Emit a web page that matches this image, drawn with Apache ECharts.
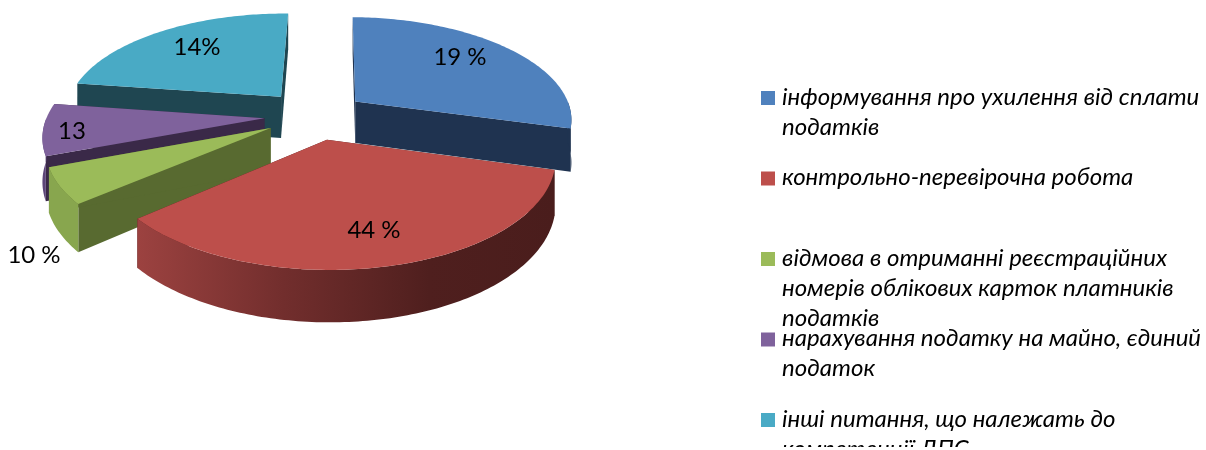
<!DOCTYPE html>
<html>
<head>
<meta charset="utf-8">
<style>
  html, body { margin: 0; padding: 0; background: #fff; }
  #chart { width: 1206px; height: 450px; }
</style>
<script src="https://cdn.jsdelivr.net/npm/echarts@6/dist/echarts.min.js"></script>
</head>
<body>
<div id="chart"></div>
<script>
const categories = [
  'інформування про ухилення від сплати\nподатків',
  'контрольно-перевірочна робота',
  'відмова в отриманні реєстраційних\nномерів облікових карток платників\nподатків',
  'нарахування податку на майно, єдиний\nподаток',
  'інші питання, що належать до\nкомпетенції ДПС'
];
// printed labels do not agree with the drawn slices in the source picture,
// so shares are read from the slice shapes and the labels are kept as printed
const sliceShares = [29, 34.5, 5.5, 8, 23];
const sliceLabels = ['19 %', '44 %', '10 %', '13', '14%'];

const topColors = ['#4f81bd', '#bd4f4b', '#9bbb59', '#7f629c', '#49aac5'];
const faceColors = ['#1f3350', '#4a1d1c', '#586a30', '#3a2948', '#1f4651'];
const rimColors = ['#1f3350', null, '#88a64e', '#5c4578', '#3f8ea6'];
const labelSpots = [[460, 57], [374, 230], [34, 255], [72, 131], [197, 47]];
const explodeBy = [0.235, 0.235, 0.235, 0.235, 0.25];
const drawOrder = [4, 0, 3, 2, 1];

const FONT = 'Lato, "Open Sans", sans-serif';
const START_ANGLE = 1;
const DEPTH = 41;

// perspective view of the tilted disc, angles run clockwise from the top
function project(X, Y, drop) {
  const s = 1 / (1 - 0.15 * Y);
  return [311 + 210 * X * s, 94 + 95 * Y * s + (drop || 0) * s];
}

function sliceAngles(index) {
  const total = sliceShares.reduce((a, b) => a + b, 0);
  let start = START_ANGLE;
  for (let i = 0; i < index; i++) {
    start += (sliceShares[i] / total) * 360;
  }
  return [start, start + (sliceShares[index] / total) * 360];
}

function renderSlice(params, api) {
  const index = api.value(0);
  const [start, end] = sliceAngles(index);
  const mid = ((start + end) / 2) * Math.PI / 180;
  const apexX = 0.02 + explodeBy[index] * Math.sin(mid);
  const apexY = 0.22 - explodeBy[index] * Math.cos(mid);

  const rimAt = (deg, drop) => {
    const a = deg * Math.PI / 180;
    return project(apexX + Math.sin(a), apexY - Math.cos(a), drop);
  };
  const arc = (from, to, drop) => {
    const pts = [];
    const steps = Math.max(1, Math.ceil(to - from));
    for (let k = 0; k <= steps; k++) {
      pts.push(rimAt(from + ((to - from) * k) / steps, drop));
    }
    return pts;
  };
  const apex = project(apexX, apexY);
  const apexLow = project(apexX, apexY, DEPTH);
  const poly = (points, fill, z2) => ({
    type: 'polygon',
    z2,
    shape: { points },
    style: { fill, stroke: null }
  });

  const rimFill = rimColors[index] || new echarts.graphic.LinearGradient(0, 0, 1, 0, [
    { offset: 0, color: '#9c4240' },
    { offset: 0.35, color: '#722e2d' },
    { offset: 0.7, color: '#4f1f1e' },
    { offset: 1, color: '#4a1d1c' }
  ]);

  const children = [
    poly([apex, rimAt(start), rimAt(start, DEPTH), apexLow], faceColors[index], 1),
    poly([apex, rimAt(end), rimAt(end, DEPTH), apexLow], faceColors[index], 1)
  ];
  // only the front half of the outer wall can be seen
  const wallFrom = Math.max(start, 90);
  const wallTo = Math.min(end, 270);
  if (wallTo > wallFrom) {
    children.push(poly(arc(wallFrom, wallTo, 0).concat(arc(wallFrom, wallTo, DEPTH).reverse()), rimFill, 2));
  }
  children.push(poly([apex].concat(arc(start, end, 0)), topColors[index], 3));
  children.push({
    type: 'text',
    z2: 4,
    x: labelSpots[index][0],
    y: labelSpots[index][1],
    style: {
      text: sliceLabels[index],
      font: '24px ' + FONT,
      fill: '#000',
      align: 'center',
      verticalAlign: 'middle'
    }
  });
  return { type: 'group', children };
}

const legendElements = [];
categories.forEach((name, i) => {
  const top = 91 + 80.5 * i;
  legendElements.push({
    type: 'rect',
    shape: { x: 761, y: top, width: 14, height: 14 },
    style: { fill: topColors[i] }
  });
  legendElements.push({
    type: 'text',
    x: 782,
    y: top - 9,
    style: {
      text: name,
      font: 'italic 24px ' + FONT,
      lineHeight: 30,
      fill: '#000',
      align: 'left',
      verticalAlign: 'top'
    }
  });
});
// the source picture cuts the last legend line off just above the bottom edge
legendElements.push({
  type: 'rect',
  z: 10,
  shape: { x: 750, y: 447, width: 456, height: 3 },
  style: { fill: '#fff' }
});

const myChart = echarts.init(document.getElementById('chart'), null, { renderer: 'canvas' });
myChart.setOption({
  animation: false,
  backgroundColor: '#fff',
  graphic: { elements: legendElements },
  series: [
    {
      type: 'custom',
      coordinateSystem: 'none',
      renderItem: renderSlice,
      data: drawOrder.map(i => [i])
    }
  ]
});
</script>
</body>
</html>
